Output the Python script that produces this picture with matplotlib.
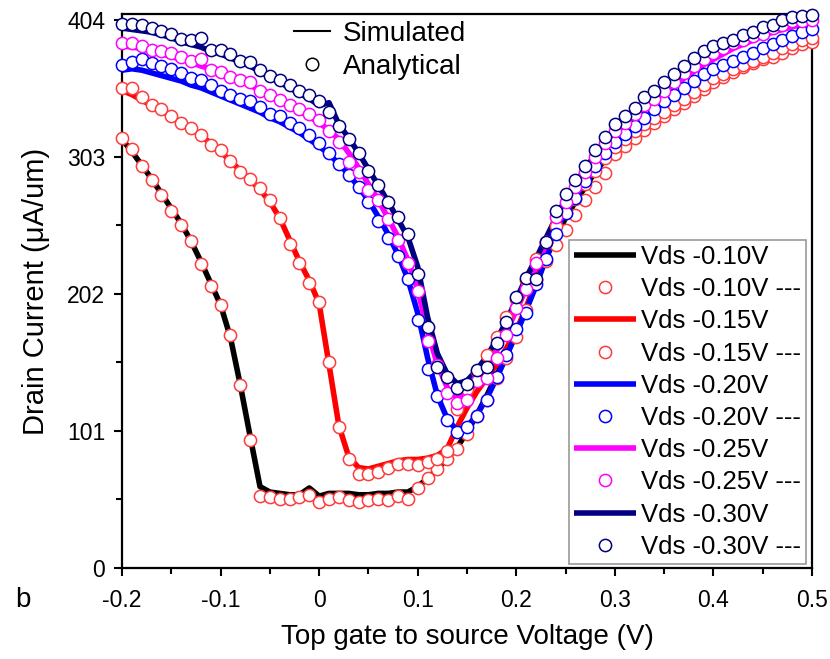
import numpy as np
import matplotlib
matplotlib.use("Agg")
import matplotlib.pyplot as plt
from matplotlib.lines import Line2D
from matplotlib.ticker import MultipleLocator

plt.rcParams['font.family'] = ['Liberation Sans', 'DejaVu Sans']

# Gate voltage grid (V), 0.01 V steps from -0.2 to 0.5
vgs = np.round(np.arange(-0.20, 0.5001, 0.01), 2)

# ---- Vds -0.10 V ----
sim_010 = [316, 307, 297, 287, 276, 265, 254, 241, 226, 210,
           194, 170, 135, 97, 60, 56, 55, 54, 54, 59,
           53, 55, 55, 55, 54, 54, 55, 55, 56, 56,
           60, 66, 73, 81, 89, 100, 113, 127, 142, 157,
           173, 191, 210, 228, 244, 258, 270, 281, 292, 301,
           309, 316, 322, 328, 333, 338, 343, 348, 352, 356,
           360, 364, 367, 371, 374, 377, 380, 383, 386, 388, 391]
ana_010 = [317, 309, 296, 286, 275, 263, 253, 241, 224, 208,
           194, 172, 135, 94, 53, 52, 51, 51, 52, 54,
           49, 51, 52, 50, 49, 50, 51, 50, 53, 51,
           59, 66, 73, 80, 88, 99, 112, 124, 140, 155,
           170, 190, 212, 226, 238, 249, 260, 271, 281, 291,
           305, 311, 317, 323, 328, 333, 338, 343, 348, 353,
           358, 362, 366, 369, 372, 375, 377, 380, 383, 386, 388]

# ---- Vds -0.15 V ----
sim_015 = [352, 349, 345, 341, 337, 333, 328, 324, 319, 313,
           307, 300, 293, 286, 279, 270, 258, 242, 226, 212,
           195, 150, 105, 82, 74, 73, 75, 77, 79, 80,
           80, 81, 83, 88, 104, 118, 130, 140, 150, 162,
           175, 192, 212, 232, 250, 264, 276, 287, 297, 306,
           313, 320, 326, 332, 337, 342, 347, 351, 356, 360,
           364, 367, 370, 373, 376, 379, 382, 384, 387, 389, 391]
ana_015 = [354, 354, 347, 341, 338, 333, 328, 324, 319, 312,
           308, 300, 292, 287, 280, 271, 258, 239, 225, 210,
           196, 152, 104, 80, 69, 69, 71, 74, 77, 77,
           76, 78, 80, 86, 117, 132, 145, 157, 170, 185,
           198, 212, 228, 240, 252, 262, 272, 283, 293, 302,
           310, 316, 322, 327, 332, 336, 341, 346, 351, 356,
           361, 364, 368, 371, 374, 377, 380, 383, 386, 389, 391]

# ---- Vds -0.20 V ----
sim_020 = [367, 368, 367, 365, 363, 361, 359, 356, 354, 351,
           348, 345, 342, 339, 336, 332, 329, 325, 321, 316,
           311, 305, 298, 290, 281, 271, 259, 246, 231, 213,
           188, 155, 127, 110, 101, 104, 113, 125, 140, 156,
           173, 190, 208, 228, 248, 263, 274, 284, 294, 303,
           310, 316, 321, 327, 333, 338, 342, 347, 352, 357,
           361, 364, 367, 370, 372, 375, 379, 382, 385, 388, 394]
ana_020 = [371, 373, 375, 372, 370, 368, 365, 361, 360, 356,
           352, 349, 346, 344, 340, 335, 333, 328, 324, 319,
           313, 306, 298, 290, 281, 270, 256, 243, 230, 213,
           183, 147, 127, 109, 100, 104, 112, 124, 141, 157,
           176, 188, 209, 228, 246, 262, 273, 285, 296, 306,
           314, 320, 326, 332, 338, 344, 349, 354, 359, 364,
           368, 371, 374, 377, 380, 383, 386, 389, 392, 395, 397]

# ---- Vds -0.25 V ----
sim_025 = [385, 384, 383, 381, 379, 377, 375, 373, 370, 368,
           365, 362, 359, 356, 352, 348, 345, 341, 337, 333,
           328, 323, 316, 306, 295, 283, 271, 258, 244, 227,
           205, 175, 150, 133, 125, 128, 137, 148, 160, 174,
           190, 206, 222, 238, 253, 267, 279, 290, 300, 309,
           317, 325, 332, 338, 344, 350, 355, 361, 366, 371,
           375, 379, 383, 386, 389, 392, 395, 397, 399, 401, 402]
ana_025 = [387, 387, 385, 382, 381, 380, 377, 374, 375, 367,
           366, 362, 360, 358, 352, 349, 345, 341, 338, 335,
           330, 322, 314, 299, 292, 279, 271, 257, 242, 225,
           204, 167, 150, 129, 122, 124, 138, 140, 155, 172,
           192, 206, 225, 240, 259, 270, 281, 292, 303, 313,
           322, 328, 335, 341, 346, 352, 358, 365, 370, 375,
           380, 383, 387, 389, 392, 394, 398, 400, 403, 403, 404]

# ---- Vds -0.30 V ----
sim_030 = [398, 397, 396, 395, 393, 391, 388, 386, 384, 381,
           379, 376, 373, 370, 366, 362, 358, 354, 350, 346,
           341, 343, 327, 317, 306, 294, 282, 270, 257, 244,
           222, 185, 158, 143, 136, 138, 146, 156, 168, 182,
           198, 214, 228, 243, 258, 272, 284, 294, 305, 314,
           322, 329, 336, 342, 348, 354, 360, 365, 370, 375,
           379, 383, 386, 389, 392, 395, 398, 400, 402, 404, 405]
ana_030 = [401, 401, 400, 398, 396, 394, 390, 389, 391, 382,
           382, 379, 374, 373, 367, 363, 360, 356, 352, 349,
           344, 336, 326, 316, 306, 293, 282, 270, 259, 246,
           217, 178, 148, 141, 133, 136, 146, 148, 166, 181,
           200, 214, 213, 240, 263, 276, 286, 296, 308, 318,
           327, 333, 339, 347, 352, 358, 364, 370, 376, 381,
           385, 387, 389, 393, 395, 399, 400, 404, 406, 407, 408]

labels = ["Vds -0.10V", "Vds -0.15V", "Vds -0.20V", "Vds -0.25V", "Vds -0.30V"]
line_colors = ["#000000", "#ff0000", "#0000ff", "#ff00ff", "#000080"]
marker_colors = ["#ff3b3b", "#ff3b3b", "#0000ff", "#ff00ff", "#000080"]
sims = [sim_010, sim_015, sim_020, sim_025, sim_030]
anas = [ana_010, ana_015, ana_020, ana_025, ana_030]

fig = plt.figure(figsize=(8.30, 6.59), dpi=100)
ax = fig.add_axes([122/830, 1-568/659, 690/830, 554/659])

handles = []
for lab, lc, mc, s, a in zip(labels, line_colors, marker_colors, sims, anas):
    h1, = ax.plot(vgs, s, color=lc, lw=4, solid_capstyle='butt', label=lab, zorder=2)
    h2, = ax.plot(vgs, a, ls='none', marker='o', ms=8.8, mfc='white', mec=mc,
                  mew=1.1, label=lab + " ---", zorder=3, clip_on=False)
    handles += [h1, h2]

ax.set_xlim(-0.2, 0.5)
ax.set_ylim(0, 408.4)
ax.set_xticks([-0.2, -0.1, 0, 0.1, 0.2, 0.3, 0.4, 0.5])
ax.set_xticklabels(["-0.2", "-0.1", "0", "0.1", "0.2", "0.3", "0.4", "0.5"])
ax.xaxis.set_minor_locator(MultipleLocator(0.05))
ax.set_yticks([0, 101, 202, 303, 404])
ax.yaxis.set_minor_locator(MultipleLocator(50.5))
ax.tick_params(which='major', direction='out', length=6, width=1.5, labelsize=16.5,
               top=False, right=False)
ax.tick_params(axis='x', which='major', pad=9)
ax.tick_params(axis='y', which='major', pad=6)
ax.tick_params(which='minor', direction='out', length=4, width=1.5, top=False, right=False)
for sp in ax.spines.values():
    sp.set_linewidth(1.6)

ax.set_xlabel("Top gate to source Voltage (V)", fontsize=20, labelpad=9)
ax.set_ylabel("Drain Current (\u03bcA/um)", fontsize=21, labelpad=12)

leg = ax.legend(handles=handles, loc='lower right',
                bbox_to_anchor=(806/830, 1-564/659), bbox_transform=fig.transFigure,
                borderaxespad=0, fontsize=18.5, handlelength=2.4, handletextpad=0.2,
                labelspacing=0.32, borderpad=0.2, fancybox=False, framealpha=1,
                edgecolor='#999999', numpoints=1)
leg.get_frame().set_linewidth(1.2)
leg.set_zorder(5)

h_sim = Line2D([], [], color='black', lw=1.5)
h_ana = Line2D([], [], ls='none', marker='o', ms=9, mfc='white', mec='black', mew=1.1)
leg2 = fig.legend([h_sim, h_ana], ["Simulated", "Analytical"], loc='upper left',
                  bbox_to_anchor=(294/830, 1-21/659), frameon=False, fontsize=20,
                  handlelength=1.3, handletextpad=0.45, labelspacing=0.25,
                  borderpad=0, borderaxespad=0, numpoints=1)

fig.text(15/830, 1-600/659, "b", fontsize=20, va='center', ha='left')

fig.savefig("out.png", dpi=100)
